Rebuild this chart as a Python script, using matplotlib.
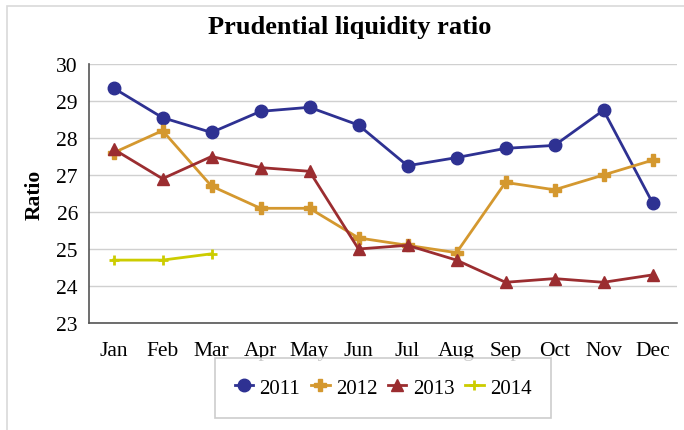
import matplotlib.pyplot as plt
from matplotlib.patches import Rectangle
import numpy as np

months = ["Jan", "Feb", "Mar", "Apr", "May", "Jun", "Jul", "Aug", "Sep", "Oct", "Nov", "Dec"]
y2011 = [29.35, 28.55, 28.15, 28.72, 28.83, 28.35, 27.25, 27.47, 27.72, 27.8, 28.75, 26.25]
y2012 = [27.6, 28.2, 26.7, 26.1, 26.1, 25.3, 25.1, 24.9, 26.8, 26.6, 27.0, 27.4]
y2013 = [27.7, 26.9, 27.5, 27.2, 27.1, 25.0, 25.1, 24.7, 24.1, 24.2, 24.1, 24.3]
y2014 = [24.7, 24.7, 24.87]

plt.rcParams['font.family'] = ['Liberation Serif', 'DejaVu Serif']

fig = plt.figure(figsize=(6.84, 4.31), dpi=100)
fig.patches.append(Rectangle((7 / 684, -0.05), 1.0, 1 - 7 / 431 + 0.05,
                             transform=fig.transFigure, fill=False,
                             edgecolor='#d9d9d9', linewidth=1.2))
ax = fig.add_axes([89 / 684, 1 - 324 / 431, (677 - 89) / 684, (324 - 65) / 431])

x = np.arange(len(months))
ax.plot(x, y2011, color='#2e3192', linewidth=2, marker='o', markersize=9, label='2011')
ax.plot(x, y2012, color='#d4982f', linewidth=2, marker='P', markersize=8, label='2012')
ax.plot(x, y2013, color='#9b2d30', linewidth=2, marker='^', markersize=8, label='2013')
ax.plot(x[:len(y2014)], y2014, color='#cccc00', linewidth=2, marker='+', markersize=7,
        markeredgewidth=2, label='2014')

ax.set_xlim(-0.5, 11.5)
ax.set_ylim(23, 30)
ax.set_yticks(range(23, 31))
ax.set_xticks(x)
ax.set_xticklabels(months)
ax.tick_params(axis='both', length=0, labelsize=15.5)
ax.tick_params(axis='x', pad=13)
ax.tick_params(axis='y', pad=8)
ax.grid(axis='y', color='#d0d0d0', linewidth=1)
ax.set_axisbelow(True)
for s in ['top', 'right']:
    ax.spines[s].set_visible(False)
for s in ['left', 'bottom']:
    ax.spines[s].set_color('#555555')
    ax.spines[s].set_linewidth(1.2)

ax.set_ylabel('Ratio', fontsize=15.5, fontweight='bold', labelpad=8)
fig.text(350 / 684, 1 - 28 / 431, 'Prudential liquidity ratio', ha='center', va='center',
         fontsize=19, fontweight='bold')

leg = fig.legend(loc='center', bbox_to_anchor=(383 / 684, 1 - 389 / 431), ncol=4,
                 fontsize=15, frameon=True, fancybox=False, handlelength=0.9,
                 handletextpad=0.3, columnspacing=0.5, borderpad=0.95)
leg.get_frame().set_edgecolor('#c0c0c0')
leg.get_frame().set_linewidth(1.2)

fig.savefig('out.png', dpi=100)
